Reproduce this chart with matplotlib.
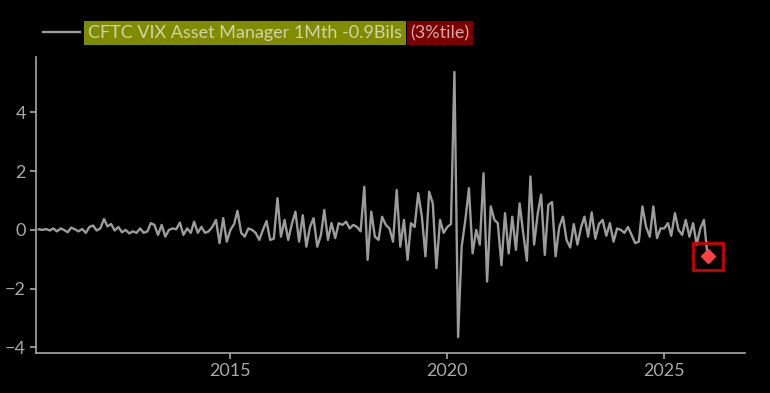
import matplotlib
matplotlib.use("Agg")
import matplotlib.pyplot as plt
import matplotlib.dates as mdates
from matplotlib.lines import Line2D
from matplotlib.patches import Rectangle
import pandas as pd

# monthly 1Mth change, Bils (Aug 2010 .. Jan 2026)
v2010 = [0.02, 0.0, 0.03, -0.02, 0.05]
v2011 = [-0.05, 0.05, 0.0, -0.08, 0.08, 0.02, -0.05, 0.03, -0.1, 0.1, 0.15, -0.02]
v2012 = [0.05, 0.37, 0.12, 0.2, -0.02, 0.1, -0.08, 0.0, -0.12, -0.05, -0.1, 0.05]
v2013 = [-0.1, -0.05, 0.23, 0.17, -0.17, 0.17, -0.23, 0.0, 0.05, 0.02, 0.25, -0.17]
v2014 = [0.05, -0.1, 0.28, -0.1, 0.1, -0.1, -0.05, 0.1, 0.34, -0.45, 0.4, -0.4]
v2015 = [0.0, 0.2, 0.65, -0.1, -0.23, 0.05, 0.0, -0.1, -0.34, 0.0, 0.3, -0.34]
v2016 = [-0.3, 1.08, -0.23, 0.34, -0.34, 0.2, 0.62, -0.4, 0.5, -0.57, 0.1, 0.4]
v2017 = [-0.57, -0.17, 0.68, -0.34, 0.23, -0.28, 0.23, 0.17, 0.28, 0.05, 0.17, 0.1]
v2018 = [-0.05, 1.47, -1.02, 0.62, -0.23, -0.34, 0.45, 0.17, 0.05, -0.4, 1.36, -0.57]
v2019 = [0.34, -1.02, 0.23, 0.1, 1.25, 0.45, -0.9, 1.3, 0.9, -1.3, 0.34, -0.1]
v2020 = [0.1, 0.2, 5.38, -3.65, -0.57, 0.34, 1.42, -0.8, 0.0, -0.5, 1.93, -1.76]
v2021 = [0.8, 0.34, 0.23, -1.2, 0.57, -0.8, 0.45, -0.68, 0.9, -0.1, -1.05, 1.82]
v2022 = [-0.5, 0.57, 1.2, -0.85, 0.85, 0.95, -0.9, 0.1, 0.45, -0.34, -0.6, 0.2]
v2023 = [-0.5, 0.1, 0.45, -0.23, 0.6, -0.3, 0.2, 0.34, -0.2, 0.23, -0.4, 0.05]
v2024 = [0.0, -0.1, 0.1, -0.17, -0.45, -0.4, 0.8, 0.1, -0.23, 0.8, -0.28, 0.05]
v2025 = [0.05, 0.23, -0.2, 0.57, 0.0, -0.17, 0.34, -0.23, 0.23, -0.5, 0.05, 0.34]
v2026 = [-0.9]

values = (v2010 + v2011 + v2012 + v2013 + v2014 + v2015 + v2016 + v2017 +
          v2018 + v2019 + v2020 + v2021 + v2022 + v2023 + v2024 + v2025 + v2026)
dates = pd.date_range("2010-08-01", periods=len(values), freq="MS")

label_main = "CFTC VIX Asset Manager 1Mth -0.9Bils"
label_pct = "(3%tile)"
year_ticks = [2015, 2020, 2025]
y_ticks = [-4, -2, 0, 2, 4]

grey = "#a8a8a8"
fig = plt.figure(figsize=(7.7, 3.93), dpi=100, facecolor="black")
ax = fig.add_axes([0.047, 0.102, 0.921, 0.753], facecolor="black")

ax.plot(dates, values, color="#9c9c9c", lw=1.7)
ax.plot(dates[-1], values[-1], marker="D", color="#ff4040", ms=7, zorder=5)

# red box round the last point
xl = mdates.date2num(dates[-1])
ax.add_patch(Rectangle((xl - 125, values[-1] - 0.45), 255, 0.9, fill=False,
                       ec="#d00000", lw=2, zorder=6))

ax.set_xlim(pd.Timestamp("2010-07-10"), pd.Timestamp("2026-11-15"))
ax.set_ylim(-4.19, 5.89)
ax.set_xticks([pd.Timestamp(f"{y}-01-01") for y in year_ticks])
ax.xaxis.set_major_formatter(mdates.DateFormatter("%Y"))
ax.set_yticks(y_ticks)
ax.yaxis.set_major_formatter(plt.FuncFormatter(lambda v, p: f"{v:.0f}".replace("-", "\u2212")))

for s in ["top", "right"]:
    ax.spines[s].set_visible(False)
for s in ["left", "bottom"]:
    ax.spines[s].set_color(grey)
    ax.spines[s].set_linewidth(1.2)
ax.tick_params(colors=grey, labelsize=13, length=4, width=1.2)
for t in ax.get_xticklabels() + ax.get_yticklabels():
    t.set_family("Lato")

# legend
fig.add_artist(Line2D([43 / 770, 80 / 770], [1 - 32 / 393] * 2, color="#9c9c9c", lw=1.7))
t1 = fig.text(88 / 770, 1 - 33 / 393, label_main, family="Lato", fontsize=13,
              color="#d2d2b0", va="center", ha="left",
              bbox=dict(boxstyle="square,pad=0.2", fc="#7f8c00", ec="none"))
fig.canvas.draw()
bb = t1.get_window_extent(fig.canvas.get_renderer())
pad_px = 0.2 * 13 * 100 / 72
x2 = (bb.x1 + 2 * pad_px + 1) / 770
fig.text(x2, 1 - 33 / 393, label_pct, family="Lato", fontsize=13,
         color="#d8a8a8", va="center", ha="left",
         bbox=dict(boxstyle="square,pad=0.2", fc="#7a0000", ec="none"))

fig.savefig("out.png", dpi=100, facecolor="black")
